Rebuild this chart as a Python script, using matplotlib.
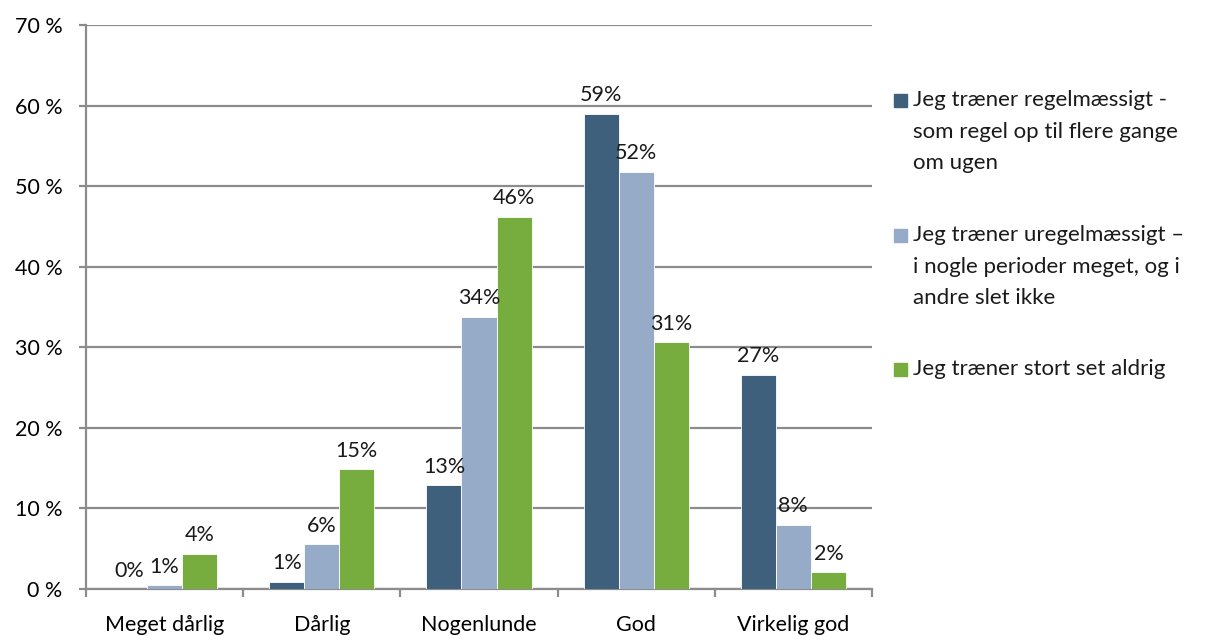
import matplotlib.pyplot as plt
from matplotlib.patches import Rectangle
import numpy as np

plt.rcParams['font.family'] = ['Lato', 'DejaVu Sans']

categories = ['Meget dårlig', 'Dårlig', 'Nogenlunde', 'God', 'Virkelig god']
regelmaessigt = [0.0, 0.9, 12.9, 59.0, 26.6]
uregelmaessigt = [0.5, 5.6, 33.8, 51.8, 8.0]
aldrig = [4.4, 14.9, 46.2, 30.6, 2.1]
series_names = ['Jeg træner regelmæssigt -\nsom regel op til flere gange\nom ugen',
                'Jeg træner uregelmæssigt –\ni nogle perioder meget, og i\nandre slet ikke',
                'Jeg træner stort set aldrig']
yticks = [0, 10, 20, 30, 40, 50, 60, 70]

colors = ['#3f607d', '#95abc7', '#77ac3f']
grid_col = '#8c8c8c'

fig = plt.figure(figsize=(12.19, 6.36), dpi=100)
ax = fig.add_axes([0.0706, 0.0739, 0.6447, 0.8868])

x = np.arange(len(categories))
w = 0.223
for j, vals in enumerate([regelmaessigt, uregelmaessigt, aldrig]):
    pos = x + (j - 1) * w
    ax.bar(pos, vals, width=w, color=colors[j], edgecolor='white', linewidth=0.6, zorder=3)
    for px, v in zip(pos, vals):
        ax.annotate(f'{int(v + 0.5)}%', (px, v), xytext=(0, 6), textcoords='offset points',
                    ha='center', va='bottom', fontsize=15.5, color='#1a1a1a', zorder=4)

ax.set_xlim(-0.5, 4.5)
ax.set_ylim(0, 70)
ax.set_yticks(yticks)
ax.set_yticklabels([f'{t} %' for t in yticks], fontsize=15.5)
ax.yaxis.grid(True, color=grid_col, linewidth=1.6, zorder=0)
ax.set_axisbelow(True)

ax.set_xticks(x)
ax.set_xticklabels(categories, fontsize=15.5)
ax.set_xticks(np.arange(-0.5, 5, 1), minor=True)
ax.tick_params(axis='x', which='major', length=0, pad=19)
ax.tick_params(axis='x', which='minor', length=6, width=1.6, color=grid_col)
ax.tick_params(axis='y', length=5, width=1.6, color=grid_col, pad=12)

for s in ['top', 'right']:
    ax.spines[s].set_visible(False)
for s in ['left', 'bottom']:
    ax.spines[s].set_color(grid_col)
    ax.spines[s].set_linewidth(1.6)

# legend drawn by hand so the marker sits on the first line
leg_y = [0.842, 0.630, 0.420]
for j, name in enumerate(series_names):
    y0 = leg_y[j]
    fig.add_artist(Rectangle((894 / 1219, y0 - 0.0105), 13 / 1219, 13 / 636,
                             transform=fig.transFigure, color=colors[j]))
    fig.text(913 / 1219, y0 + 0.016, name, fontsize=16, va='top', ha='left',
             linespacing=1.72, color='#1a1a1a')

fig.savefig('out.png', dpi=100)
